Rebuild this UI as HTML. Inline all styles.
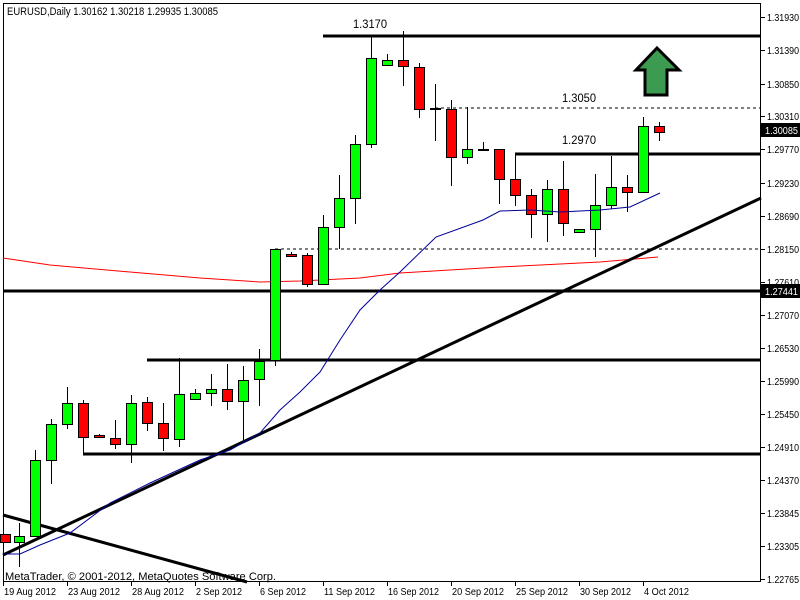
<!DOCTYPE html>
<html><head><meta charset="utf-8"><style>
html,body{margin:0;padding:0;background:#fff;}
svg{display:block;font-family:"Liberation Sans",sans-serif;}
</style></head><body>
<svg id="s" width="800" height="600" viewBox="0 0 800 600" xmlns="http://www.w3.org/2000/svg">
<rect x="0" y="0" width="800" height="600" fill="#fff"/>
<rect x="3.5" y="3.5" width="757" height="578" fill="none" stroke="#000" stroke-width="1"/>
<g id="lines">
<polyline fill="none" stroke="#ff0000" stroke-width="1" points="3,258 50,265 130,272 200,278 260,282 300,281 360,278 400,273 500,267 600,262 658,257"/>
<line x1="3" y1="555" x2="761" y2="198" stroke="#000" stroke-width="3"/>
<line x1="3" y1="515" x2="247" y2="582" stroke="#000" stroke-width="3"/>
<line x1="323" y1="36" x2="761" y2="36" stroke="#000" stroke-width="3"/>
<line x1="435" y1="108" x2="761" y2="108" stroke="#000" stroke-width="1" stroke-dasharray="3,3"/>
<line x1="515" y1="154" x2="761" y2="154" stroke="#000" stroke-width="3"/>
<line x1="275" y1="249" x2="761" y2="249" stroke="#000" stroke-width="1" stroke-dasharray="3,3"/>
<line x1="3" y1="291" x2="761" y2="291" stroke="#000" stroke-width="3"/>
<line x1="147" y1="360" x2="761" y2="360" stroke="#000" stroke-width="3"/>
<line x1="83" y1="454" x2="761" y2="454" stroke="#000" stroke-width="3"/>
</g>
<g id="candles"></g>
<polyline fill="none" stroke="#000099" stroke-width="1" points="3,554 20,554 40,545 70,533 110,503 150,483 200,460 230,450 260,433 280,410 300,392 320,372 340,340 360,310 380,290 400,272 436,237 483,220 500,211 530,210 560,212 600,210 630,207 660,193"/>
<polygon points="657,48 679,70 667,70 667,95 645,95 645,70 636,70" fill="#3c9b50" stroke="#000" stroke-width="3" stroke-linejoin="miter"/>
<g font-size="11" fill="#000">
<text x="7" y="15" textLength="211" lengthAdjust="spacingAndGlyphs">EURUSD,Daily  1.30162 1.30218 1.29935 1.30085</text>
<text x="353" y="28" font-size="12" textLength="34" lengthAdjust="spacingAndGlyphs">1.3170</text>
<text x="562" y="102" font-size="12" textLength="34" lengthAdjust="spacingAndGlyphs">1.3050</text>
<text x="562" y="144" font-size="12" textLength="34" lengthAdjust="spacingAndGlyphs">1.2970</text>
<text x="5" y="580" textLength="271" lengthAdjust="spacingAndGlyphs">MetaTrader, © 2001-2012, MetaQuotes Software Corp.</text>
</g>
<g id="axis" font-size="10" fill="#000"></g>
<rect x="761" y="123" width="39" height="14" fill="#000"/>
<text x="765" y="134" font-size="10" fill="#fff" textLength="33" lengthAdjust="spacingAndGlyphs">1.30085</text>
<rect x="761" y="284" width="39" height="14" fill="#000"/>
<text x="765" y="295" font-size="10" fill="#fff" textLength="33" lengthAdjust="spacingAndGlyphs">1.27441</text>
</svg>
<script>
var NS="http://www.w3.org/2000/svg";
function el(p,t,a,txt){var e=document.createElementNS(NS,t);for(var k in a)e.setAttribute(k,a[k]);if(txt)e.textContent=txt;p.appendChild(e);return e;}
var C=[
[5,534,542,534,542,'r'],[19,536,542,523,567,'g'],[35,460,536,450,536,'g'],[51,424,460,419,484,'g'],
[67,403,424,387,429,'g'],[83,403,437,400,454,'r'],[99,435,437,434,438,'r'],[115,438,444,420,449,'r'],
[131,403,444,395,463,'g'],[147,402,423,397,431,'r'],[163,423,438,403,451,'r'],[179,394,439,358,447,'g'],
[195,393,399,389,399,'g'],[211,389,393,374,406,'g'],[227,389,401,364,410,'r'],[243,380,401,366,440,'g'],
[259,361,379,349,406,'g'],[275,249,360,249,366,'g'],[291,254,256,252,257,'r'],[307,255,284,253,287,'r'],
[323,227,284,215,284,'g'],[339,198,227,175,249,'g'],[355,144,198,135,224,'g'],[371,58,144,36,148,'g'],
[387,60,65,54,65,'g'],[403,60,66,31,86,'r'],[419,67,109,63,118,'r'],[435,108,110,84,141,'d'],
[451,109,157,100,186,'r'],[467,149,157,107,164,'g'],[483,149,151,142,151,'d'],[499,149,179,149,204,'r'],
[515,179,195,154,206,'r'],[531,195,214,189,238,'r'],[547,189,214,180,242,'g'],[563,189,223,161,236,'r'],
[579,229,232,229,233,'g'],[595,205,229,174,257,'g'],[611,187,205,156,209,'g'],[627,187,192,175,212,'r'],
[643,126,192,117,192,'g'],[659,126,132,122,141,'r']];
var g=document.getElementById('candles');
C.forEach(function(c){
 el(g,'line',{x1:c[0]+.5,y1:c[3],x2:c[0]+.5,y2:c[4],stroke:'#000','stroke-width':1});
 if(c[5]=='d'){el(g,'line',{x1:c[0]-5,y1:c[1]+1,x2:c[0]+6,y2:c[1]+1,stroke:'#000','stroke-width':2});return;}
 el(g,'rect',{x:c[0]-4.5,y:c[1]+.5,width:10,height:Math.max(c[2]-c[1],2),fill:c[5]=='g'?'#00ff00':'#ff0000',stroke:'#000','stroke-width':1});
});
var ax=document.getElementById('axis');
var L=[["1.31930",17],["1.31390",50],["1.30850",84],["1.30310",116],["1.29770",149],["1.29230",183],["1.28690",216],["1.28150",249],["1.27610",282],["1.27070",315],["1.26530",348],["1.25990",381],["1.25450",414],["1.24910",447],["1.24370",480],["1.23845",513],["1.23305",546],["1.22765",579]];
L.forEach(function(l){el(ax,'line',{x1:761,y1:l[1]+.5,x2:765,y2:l[1]+.5,stroke:'#000'});el(ax,'text',{x:767,y:l[1]+4,textLength:32,lengthAdjust:'spacingAndGlyphs'},l[0]);});
var D=[["19 Aug 2012",3,52],["23 Aug 2012",67,52],["28 Aug 2012",131,52],["2 Sep 2012",195,46],["6 Sep 2012",259,46],["11 Sep 2012",323,51],["16 Sep 2012",387,51],["20 Sep 2012",451,52],["25 Sep 2012",515,52],["30 Sep 2012",579,51],["4 Oct 2012",643,45]];
D.forEach(function(d){el(ax,'line',{x1:d[1]+.5,y1:582,x2:d[1]+.5,y2:586,stroke:'#000'});el(ax,'text',{x:d[1]+1,y:595,textLength:d[2],lengthAdjust:'spacingAndGlyphs'},d[0]);});
</script>
</body></html>
